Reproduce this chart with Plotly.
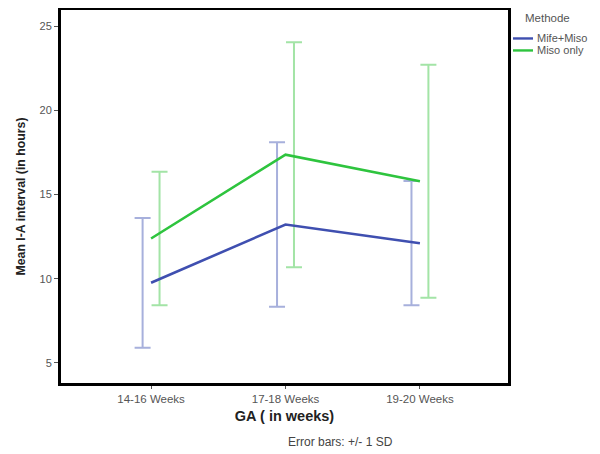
import plotly.graph_objects as go

categories = ["14-16 Weeks", "17-18 Weeks", "19-20 Weeks"]
groups = ["Mife+Miso", "Miso only"]
mife_mean = [9.76, 13.22, 12.11]
mife_sd = [3.85, 4.88, 3.69]
miso_mean = [12.39, 17.37, 15.79]
miso_sd = [3.96, 6.68, 6.92]

line_colors = ["#3f4fb0", "#2ec43e"]
err_colors = ["#a7b0dc", "#a3e4a6"]
offsets = [-0.063, 0.063]

W, H = 592, 446
L, R, T, B = 53, 92, 1.5, 71
PW, PH = W - L - R, H - T - B

fig = go.Figure()
xs = list(range(len(categories)))
for i, (name, m, s) in enumerate(zip(groups, [mife_mean, miso_mean], [mife_sd, miso_sd])):
    fig.add_trace(go.Scatter(
        x=[x + offsets[i] for x in xs], y=m, mode="markers",
        marker=dict(size=0.1, color="rgba(0,0,0,0)"),
        error_y=dict(type="data", array=s, visible=True, color=err_colors[i], thickness=2, width=8),
        showlegend=False, hoverinfo="skip"))
for i, (name, m) in enumerate(zip(groups, [mife_mean, miso_mean])):
    fig.add_trace(go.Scatter(
        x=xs, y=m, mode="lines", name=name, showlegend=False,
        line=dict(color=line_colors[i], width=2.6)))

font = "Arial, Liberation Sans, sans-serif"
fig.update_layout(
    width=W, height=H,
    margin=dict(l=L, r=R, t=T, b=B, autoexpand=False),
    paper_bgcolor="white", plot_bgcolor="white",
    font=dict(family=font, color="#444"),
    xaxis=dict(range=[-0.67, 2.655], tickvals=xs, ticktext=categories,
               showgrid=False, zeroline=False, showline=True, linecolor="black",
               linewidth=3, mirror=True, ticks="outside", ticklen=3, tickcolor="#555",
               tickfont=dict(size=11.5, color="#555"),
               title=dict(text="<b>GA ( in weeks)</b>", font=dict(size=14.5, color="#222"), standoff=8)),
    yaxis=dict(range=[3.81, 25.96], tickvals=[5, 10, 15, 20, 25],
               showgrid=False, zeroline=False, showline=True, linecolor="black",
               linewidth=3, mirror=True, ticks="outside", ticklen=4, tickcolor="#555",
               tickfont=dict(size=11, color="#555"),
               title=dict(text="<b>Mean I-A interval (in hours)</b>", font=dict(size=12.3, color="#222"), standoff=12)),
)

# legend (drawn to match the reference's compact style)
def px_x(x):
    return (x - L) / PW

def px_y(y):
    return 1 - (y - T) / PH

fig.add_annotation(text="Methode", xref="paper", yref="paper", x=px_x(515), y=px_y(10),
                   xanchor="left", yanchor="middle", showarrow=False,
                   font=dict(size=11.5, color="#555"))
for i, name in enumerate(groups):
    yy = 30 + 12 * i
    fig.add_shape(type="line", xref="paper", yref="paper",
                  x0=px_x(505), x1=px_x(525), y0=px_y(yy), y1=px_y(yy),
                  line=dict(color=line_colors[i], width=2.4))
    fig.add_annotation(text=name, xref="paper", yref="paper", x=px_x(527), y=px_y(yy),
                       xanchor="left", yanchor="middle", showarrow=False,
                       font=dict(size=11, color="#555"))

fig.add_annotation(text="Error bars: +/- 1 SD", xref="paper", yref="paper",
                   x=px_x(332), y=px_y(434), xanchor="center", yanchor="middle",
                   showarrow=False, font=dict(size=12, color="#444"))

fig.write_html("out.html")
